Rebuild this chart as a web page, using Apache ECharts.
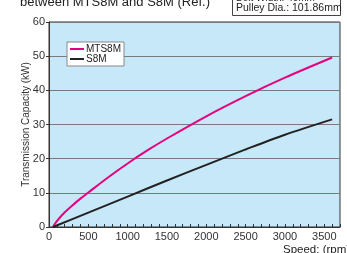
<!DOCTYPE html>
<html>
<head>
<meta charset="utf-8">
<script src="https://cdn.jsdelivr.net/npm/echarts@6/dist/echarts.min.js"></script>
<style>
    html, body { margin: 0; padding: 0; background: #fff; }
    #chart { width: 347px; height: 253px; }
</style>
</head>
<body>
<div id="chart"></div>
<script>
const font = '"Liberation Sans Narrow", "Liberation Sans", Arial, sans-serif';

// speed (rpm) / capacity (kW)
const mtsSpeed = [50, 100, 200, 300, 400, 500, 750, 1000, 1250, 1500, 2000, 2500, 3000, 3600];
const mtsPower = [0, 1.7, 4.3, 6.4, 8.3, 10.1, 14.5, 18.6, 22.4, 25.9, 32.4, 38.3, 43.7, 49.6];
const s8mSpeed = [50, 500, 1000, 1500, 2000, 2500, 3000, 3600];
const s8mPower = [0, 4.2, 8.9, 13.6, 18.2, 22.7, 27, 31.5];

const seriesNames = ['MTS8M', 'S8M'];
const seriesColors = ['#e4007f', '#222222'];

const xMax = 3700;
const yMax = 60;

const chart = echarts.init(document.getElementById('chart'));

function pairs(xs, ys) {
    return xs.map((x, i) => [x, ys[i]]);
}

chart.setOption({
    animation: false,
    textStyle: { fontFamily: font },
    grid: {
        left: 49,
        right: 7,
        top: 22,
        bottom: 26,
        show: true,
        backgroundColor: '#c6e8f8',
        borderColor: '#333',
        borderWidth: 1
    },
    legend: {
        left: 67,
        top: 42,
        orient: 'vertical',
        backgroundColor: '#fff',
        borderColor: '#888',
        borderWidth: 1,
        padding: [2, 3, 2, 3],
        itemGap: 0,
        itemWidth: 14,
        itemHeight: 2,
        icon: 'rect',
        textStyle: { fontFamily: font, fontSize: 10, color: '#222', padding: [0, 0, 0, -3] },
        data: seriesNames
    },
    xAxis: {
        type: 'value',
        min: 0,
        max: xMax,
        interval: 500,
        axisLine: { show: true, lineStyle: { color: '#333' } },
        axisTick: { show: true, inside: true, length: 3, lineStyle: { color: '#333' } },
        minorTick: { show: true, splitNumber: 5, length: 3, lineStyle: { color: '#333' } },
        splitLine: { show: false },
        axisLabel: {
            fontFamily: font,
            fontSize: 11,
            color: '#333',
            margin: 4,
            formatter: v => (v > 3500 ? '' : v)
        }
    },
    yAxis: {
        type: 'value',
        min: 0,
        max: yMax,
        interval: 10,
        name: 'Transmission Capacity (kW)',
        nameLocation: 'middle',
        nameGap: 18,
        nameMoveOverlap: false,
        nameTextStyle: { fontFamily: font, fontSize: 10, color: '#333' },
        axisLine: { show: true, lineStyle: { color: '#333' } },
        axisTick: { show: true, length: 3, lineStyle: { color: '#333' } },
        splitLine: { show: true, lineStyle: { color: '#7a7a7a', width: 1 } },
        axisLabel: { fontFamily: font, fontSize: 11, color: '#333', margin: 4 }
    },
    series: [
        {
            name: seriesNames[0],
            type: 'line',
            smooth: 0.3,
            symbol: 'none',
            lineStyle: { color: seriesColors[0], width: 2 },
            itemStyle: { color: seriesColors[0] },
            data: pairs(mtsSpeed, mtsPower)
        },
        {
            name: seriesNames[1],
            type: 'line',
            smooth: 0.3,
            symbol: 'none',
            lineStyle: { color: seriesColors[1], width: 2 },
            itemStyle: { color: seriesColors[1] },
            data: pairs(s8mSpeed, s8mPower)
        }
    ],
    graphic: [
        {
            type: 'text',
            left: 20,
            top: -4,
            style: { text: 'between MTS8M and S8M (Ref.)', font: '13px ' + font, fill: '#222' }
        },
        {
            type: 'rect',
            shape: { x: 232.5, y: -10, width: 108, height: 25.5 },
            style: { fill: '#fff', stroke: '#444', lineWidth: 1 }
        },
        {
            type: 'text',
            left: 236,
            top: -7,
            style: { text: 'Belt Width: 40mm', font: '10px ' + font, fill: '#222' }
        },
        {
            type: 'text',
            left: 236,
            top: 3,
            style: { text: 'Pulley Dia.: 101.86mm', font: '10.5px ' + font, fill: '#222' }
        },
        {
            type: 'text',
            left: 283,
            top: 244,
            style: { text: 'Speed: (rpm)', font: '11.5px ' + font, fill: '#222' }
        }
    ]
});
</script>
</body>
</html>
